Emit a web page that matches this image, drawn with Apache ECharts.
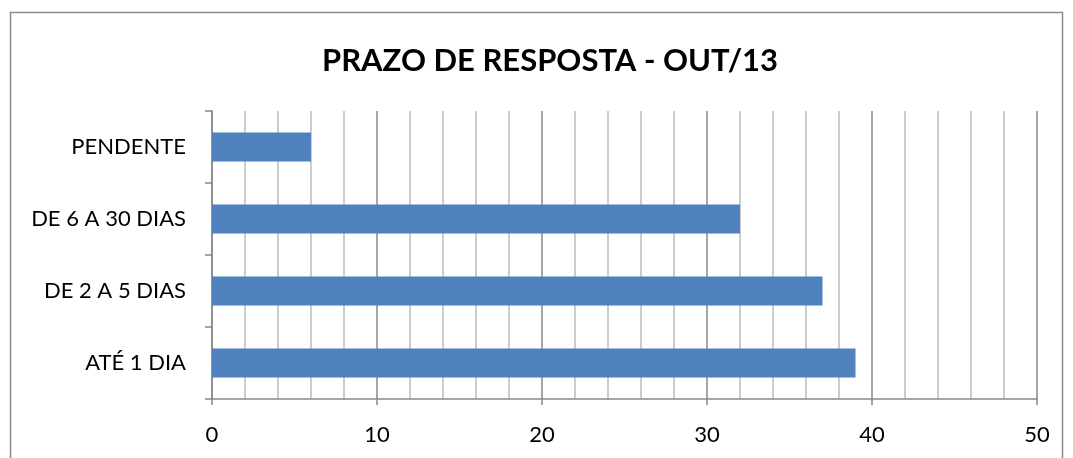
<!DOCTYPE html>
<html>
<head>
<meta charset="utf-8">
<script src="https://cdn.jsdelivr.net/npm/echarts@6/dist/echarts.min.js"></script>
<style>
  html, body { margin: 0; padding: 0; background: #fff; }
  #chart { width: 1073px; height: 458px; }
</style>
</head>
<body>
<div id="chart"></div>
<script>
const categories = ['ATÉ 1 DIA', 'DE 2 A 5 DIAS', 'DE 6 A 30 DIAS', 'PENDENTE']
const values = [39, 37, 32, 6]
const xTicks = [0, 10, 20, 30, 40, 50]

const chart = echarts.init(document.getElementById('chart'))

const option = {
  backgroundColor: '#fff',
  animation: false,
  graphic: [
    {
      type: 'rect',
      shape: { x: 10.5, y: 12.5, width: 1052, height: 460 },
      style: { fill: 'none', stroke: '#8c8c8c', lineWidth: 1.5 }
    }
  ],
  title: {
    text: 'PRAZO DE RESPOSTA - OUT/13',
    left: 545,
    textAlign: 'center',
    top: 40,
    textStyle: {
      fontFamily: 'Lato',
      fontSize: 31,
      fontWeight: 'bold',
      color: '#000'
    }
  },
  grid: {
    left: 212,
    right: 36,
    top: 111,
    bottom: 59
  },
  xAxis: {
    type: 'value',
    min: xTicks[0],
    max: xTicks[xTicks.length - 1],
    interval: 10,
    axisLine: { show: true, lineStyle: { color: '#888', width: 1.5 } },
    axisTick: { show: true, length: 6, lineStyle: { color: '#888', width: 1.5 } },
    axisLabel: {
      margin: 25,
      fontFamily: 'Lato',
      fontSize: 22,
      color: '#000'
    },
    splitLine: { show: true, lineStyle: { color: '#888', width: 1.5 } },
    minorTick: { show: false, splitNumber: 5 },
    minorSplitLine: { show: true, lineStyle: { color: '#bdbdbd', width: 1.5 } }
  },
  yAxis: {
    type: 'category',
    data: categories,
    axisLine: { show: true, lineStyle: { color: '#888', width: 1.5 } },
    axisTick: { show: true, length: 7, lineStyle: { color: '#888', width: 1.5 } },
    axisLabel: {
      margin: 26,
      fontFamily: 'Lato',
      fontSize: 22,
      color: '#000'
    },
    splitLine: { show: false }
  },
  series: [
    {
      type: 'bar',
      data: values,
      barWidth: 29,
      itemStyle: { color: '#4f81bd' }
    }
  ]
}

chart.setOption(option)
</script>
</body>
</html>
